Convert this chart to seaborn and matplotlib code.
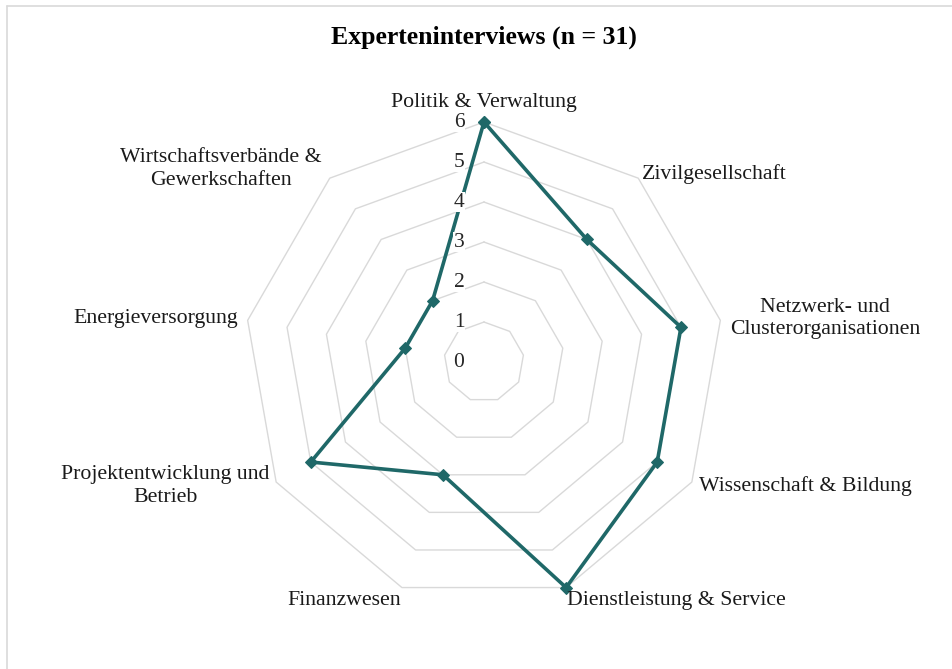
import numpy as np
import pandas as pd
import matplotlib
matplotlib.use("Agg")
import matplotlib.pyplot as plt
import matplotlib.transforms as mtransforms
from matplotlib.lines import Line2D
import seaborn as sns

# Categories (clockwise from top) and number of interviews per group
categories = [
    "Politik & Verwaltung",
    "Zivilgesellschaft",
    "Netzwerk- und\nClusterorganisationen",
    "Wissenschaft & Bildung",
    "Dienstleistung & Service",
    "Finanzwesen",
    "Projektentwicklung und\nBetrieb",
    "Energieversorgung",
    "Wirtschaftsverbände &\nGewerkschaften",
]
counts = [6, 4, 5, 5, 6, 3, 5, 2, 2]
tick_levels = [0, 1, 2, 3, 4, 5, 6]
title = "Experteninterviews (n = 31)"

sns.set_theme(style="white")
plt.rcParams["font.family"] = ["Liberation Serif", "DejaVu Serif"]

line_color = "#1F6868"
grid_color = "#D9D9D9"

n = len(categories)
angles = np.linspace(0, 2 * np.pi, n, endpoint=False)

# closed polygon for the data line
df = pd.DataFrame({
    "theta": np.append(angles, angles[0]),
    "value": counts + [counts[0]],
})

fig = plt.figure(figsize=(9.52, 6.69), dpi=100)
ax = fig.add_axes([0.2563, 0.1001, 0.5042, 0.7175], projection="polar")
ax.set_theta_zero_location("N")
ax.set_theta_direction(-1)
ax.set_ylim(0, 6)
ax.grid(False)
ax.spines["polar"].set_visible(False)
ax.set_xticks([])
ax.set_yticks([])
ax.patch.set_alpha(0)

# nonagon grid lines
ring = np.append(angles, angles[0])
for lvl in tick_levels[1:]:
    ax.plot(ring, [lvl] * len(ring), color=grid_color, lw=1.0, zorder=1,
            clip_on=False)

sns.lineplot(
    data=df, x="theta", y="value", sort=False, estimator=None, ax=ax,
    color=line_color, lw=2.6, marker="D", markersize=6,
    markeredgecolor=line_color, zorder=3, legend=False, clip_on=False,
)
ax.set_xlabel("")
ax.set_ylabel("")

# radial tick labels, left of the vertical axis, on white background
offset = mtransforms.ScaledTranslation(-0.25, 0, fig.dpi_scale_trans)
for lvl in tick_levels:
    ax.text(0, lvl, str(lvl), transform=ax.transData + offset,
            ha="center", va="center", fontsize=15.5, color="#262626", zorder=4,
            bbox=dict(facecolor="white", edgecolor="none", pad=0.5))

# category labels (radius, ha, va)
label_pos = [
    (6.5, "center", "center"),
    (6.15, "left", "center"),
    (6.25, "left", "center"),
    (6.2, "left", "center"),
    (6.08, "left", "top"),
    (6.08, "right", "top"),
    (6.2, "right", "center"),
    (6.25, "right", "center"),
    (6.3, "right", "center"),
]
for ang, lab, (r, ha, va) in zip(angles, categories, label_pos):
    ax.text(ang, r, lab, ha=ha, va=va, multialignment="center",
            fontsize=15.7, color="#1a1a1a", linespacing=1.25)

fig.text(0.5085, 0.945, title, ha="center", va="center",
         fontsize=18.5, fontweight="bold", color="black")

# chart area border (left and top visible)
fig.add_artist(Line2D([7 / 952, 7 / 952], [0, 1 - 6 / 669],
                      transform=fig.transFigure, color="#D9D9D9", lw=1.2))
fig.add_artist(Line2D([7 / 952, 1], [1 - 6 / 669, 1 - 6 / 669],
                      transform=fig.transFigure, color="#D9D9D9", lw=1.2))

fig.savefig("out.png", dpi=100, facecolor="white")
